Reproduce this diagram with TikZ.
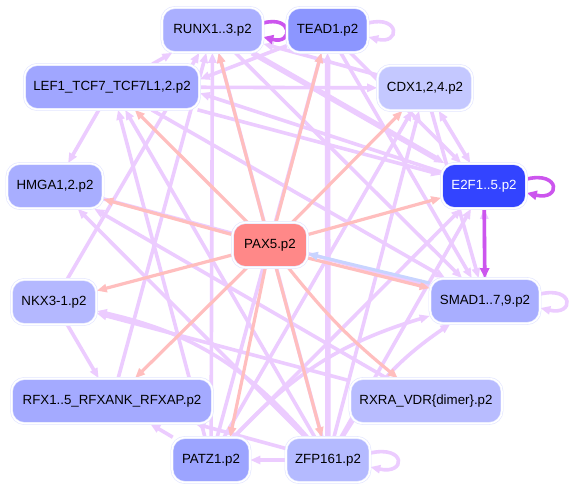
\documentclass[tikz,border=0pt]{standalone}
\usepackage{fontspec}
\setmainfont{Liberation Sans}
\usetikzlibrary{arrows.meta,backgrounds}
\definecolor{ep}{RGB}{255,190,190}
\definecolor{el}{RGB}{236,204,255}
\definecolor{ed}{RGB}{204,85,238}
\definecolor{eb}{RGB}{200,212,255}
\definecolor{nb}{RGB}{226,229,255}
\definecolor{cRunx}{RGB}{170,175,255}
\definecolor{cTead}{RGB}{140,150,255}
\definecolor{cLef}{RGB}{160,166,255}
\definecolor{cCdx}{RGB}{196,200,255}
\definecolor{cHmga}{RGB}{168,174,255}
\definecolor{cE2f}{RGB}{51,68,255}
\definecolor{cPax}{RGB}{255,136,136}
\definecolor{cNkx}{RGB}{180,184,255}
\definecolor{cSmad}{RGB}{168,174,255}
\definecolor{cRfx}{RGB}{164,170,255}
\definecolor{cRxra}{RGB}{184,188,255}
\definecolor{cPatz}{RGB}{156,164,255}
\definecolor{cZfp}{RGB}{180,186,255}
\begin{document}
\begin{tikzpicture}[x=1pt,y=-1pt,
  nd/.style={rectangle, rounded corners=13pt, draw=nb, line width=0.6pt,
    double=white, double distance=1.6pt, minimum height=45pt, inner sep=0pt,
    font=\fontsize{13.3}{16}\selectfont, text=black},
  tip/.style={-{Triangle[length=10pt,width=8pt]}},
  pk/.style={draw=ep, line width=3.2pt, tip},
  lp/.style={draw=el, line width=3.6pt, tip},
  lpt/.style={draw=el, line width=5.5pt, tip},
  dk/.style={draw=ed, line width=3.6pt, -{Triangle[length=10pt,width=9pt]}},
  bl/.style={draw=eb, line width=3pt, tip}]
\useasboundingbox (0,0) rectangle (569,489);
% nodes
\node[nd, fill=cRunx, minimum width=101pt] (runx) at (212.5,30) {RUNX1..3.p2};
\node[nd, fill=cTead, minimum width=81pt] (tead) at (327.5,30) {TEAD1.p2};
\node[nd, fill=cLef, minimum width=175pt] (lef) at (112,87) {LEF1\_TCF7\_TCF7L1,2.p2};
\node[nd, fill=cCdx, minimum width=95pt] (cdx) at (425,88) {CDX1,2,4.p2};
\node[nd, fill=cHmga, minimum width=96pt] (hmga) at (55,186) {HMGA1,2.p2};
\node[nd, fill=cE2f, minimum width=85pt, text=white] (e2f) at (484,186) {E2F1..5.p2};
\node[nd, fill=cPax, minimum width=75pt] (pax) at (270,245) {PAX5.p2};
\node[nd, fill=cNkx, minimum width=85pt] (nkx) at (54,302) {NKX3-1.p2};
\node[nd, fill=cSmad, minimum width=110pt] (smad) at (485,301) {SMAD1..7,9.p2};
\node[nd, fill=cRfx, minimum width=201pt] (rfx) at (112,401) {RFX1..5\_RFXANK\_RFXAP.p2};
\node[nd, fill=cRxra, minimum width=152pt] (rxra) at (426,401) {RXRA\_VDR\{dimer\}.p2};
\node[nd, fill=cPatz, minimum width=78pt] (patz) at (211,460) {PATZ1.p2};
\node[nd, fill=cZfp, minimum width=84pt] (zfp) at (328,460) {ZFP161.p2};
\begin{scope}[on background layer]
\fill[white] (0,0) rectangle (569,489);
% light purple edges
\draw[lp] (cdx) -- (runx);
\draw[lp] (lef) -- (runx);
\draw[lp] (lef) -- (cdx);
\draw[lp] (tead) -- (lef.5);
\draw[lp] (e2f) -- (lef.-4);
\draw[lp] (lef) -- (e2f);
\draw[lpt] (runx) -- (e2f);
\draw[lp] (runx) -- (smad);
\draw[lp] (tead) -- (smad);
\draw[lp] (tead) -- (e2f);
\draw[draw=el, line width=3.6pt, {Triangle[length=10pt,width=8pt]}-{Triangle[length=10pt,width=8pt]}] (cdx) -- (e2f);
\draw[lpt] (zfp) -- (tead);
\draw[lp] (patz) -- (tead);
\draw[lp] (zfp) -- (runx);
\draw[lp] (patz) -- (runx);
\draw[lp] (zfp) -- (lef);
\draw[lp] (patz) -- (lef);
\draw[lp] (lef) -- (hmga);
\draw[lp] (zfp) -- (hmga);
\draw[lp] (rxra) -- (hmga);
\draw[lp] (rxra) -- (nkx);
\draw[lp] (zfp) to[bend right=18] (nkx);
\draw[lp] (nkx) -- (rfx);
\draw[lp] (nkx) -- (runx);
\draw[lp] (rfx) -- (runx);
\draw[lp] (zfp) -- (rfx);
\draw[lp] (patz) -- (rfx);
\draw[lp] (zfp) -- (patz);
\draw[lp] (patz) to[bend left=15] (smad);
\draw[lp] (zfp) to[bend left=12] (smad);
\draw[lp] (hmga) -- (smad);
\draw[lp] (lef) -- (smad);
\draw[lp] (zfp) -- (e2f);
\draw[lp] (patz) -- (e2f);
\draw[lp] (zfp) -- (cdx);
\draw[lp] (patz) -- (cdx);
\draw[lp] (cdx) -- (smad);
\draw[lp] (smad) -- (e2f);
% loops
\draw[lp] ([yshift=7pt]tead.east) .. controls +(32,-8) and +(32,8) .. ([yshift=-7pt]tead.east);
\draw[lp] ([yshift=7pt]smad.east) .. controls +(34,-8) and +(34,8) .. ([yshift=-7pt]smad.east);
\draw[lp] ([yshift=7pt]zfp.east) .. controls +(36,-8) and +(36,8) .. ([yshift=-7pt]zfp.east);
% pink edges from PAX5
\draw[pk] (pax) -- (runx);
\draw[pk] (pax) -- (tead);
\draw[pk] (pax) -- (lef);
\draw[pk] (pax) -- (hmga);
\draw[pk] (pax) -- (cdx);
\draw[pk] (pax) -- (e2f);
\draw[pk] (pax) -- (nkx);
\draw[pk] (pax.-19) -- (smad.167);
\draw[pk] (pax) -- (rfx);
\draw[pk] (pax) to[bend right=6] (rxra);
\draw[pk] (pax) -- (zfp);
\draw[pk] (pax) -- (patz.50);
% blue
\draw[bl] (smad.162) -- (pax.-13);
% dark purple
\draw[dk] ([yshift=7pt]runx.east) .. controls +(30,-8) and +(30,8) .. ([yshift=-7pt]runx.east);
\draw[dk] ([yshift=7pt]e2f.east) .. controls +(34,-8) and +(34,8) .. ([yshift=-7pt]e2f.east);
\draw[dk] (e2f) -- (smad);
\end{scope}
\end{tikzpicture}
\end{document}
